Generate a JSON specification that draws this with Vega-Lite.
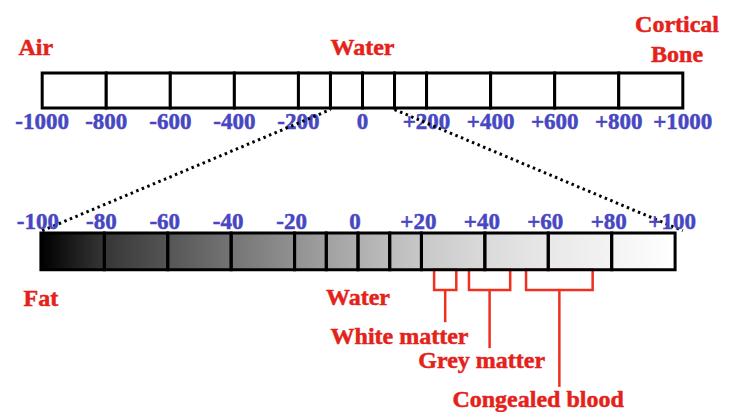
{
  "$schema": "https://vega.github.io/schema/vega-lite/v6.json",
  "width": 729,
  "height": 412,
  "padding": 0,
  "autosize": {"type": "none"},
  "background": "white",
  "config": {"view": {"stroke": null}},
  "datasets": {
    "topCells": [
      {"lo": -1000, "hi": -800}, {"lo": -800, "hi": -600}, {"lo": -600, "hi": -400},
      {"lo": -400, "hi": -200}, {"lo": -200, "hi": -100}, {"lo": -100, "hi": 0},
      {"lo": 0, "hi": 100}, {"lo": 100, "hi": 200}, {"lo": 200, "hi": 400},
      {"lo": 400, "hi": 600}, {"lo": 600, "hi": 800}, {"lo": 800, "hi": 1000}
    ],
    "topTicks": [
      {"hu": -1000, "label": "-1000"}, {"hu": -800, "label": "-800"}, {"hu": -600, "label": "-600"},
      {"hu": -400, "label": "-400"}, {"hu": -200, "label": "-200"}, {"hu": 0, "label": "0"},
      {"hu": 200, "label": "+200"}, {"hu": 400, "label": "+400"}, {"hu": 600, "label": "+600"},
      {"hu": 800, "label": "+800"}, {"hu": 1000, "label": "+1000"}
    ],
    "topNames": [
      {"name": "Air", "hu": -1020, "row": 13.3},
      {"name": "Water", "hu": 0, "row": 13.3},
      {"name": "Cortical", "hu": 982, "row": 7.8},
      {"name": "Bone", "hu": 982, "row": 15.0}
    ],
    "zoomLines": [
      {"side": "left", "hu": -100, "row": 26.6}, {"side": "left", "hu": -1000, "row": 56.0},
      {"side": "right", "hu": 100, "row": 26.6}, {"side": "right", "hu": 1000, "row": 56.0}
    ],
    "bottomCells": [
      {"lo": -100, "hi": -80}, {"lo": -80, "hi": -60}, {"lo": -60, "hi": -40},
      {"lo": -40, "hi": -20}, {"lo": -20, "hi": -10}, {"lo": -10, "hi": 0},
      {"lo": 0, "hi": 10}, {"lo": 10, "hi": 20}, {"lo": 20, "hi": 40},
      {"lo": 40, "hi": 60}, {"lo": 60, "hi": 80}, {"lo": 80, "hi": 100}
    ],
    "bottomTicks": [
      {"hu": -100, "label": "-100"}, {"hu": -80, "label": "-80"}, {"hu": -60, "label": "-60"},
      {"hu": -40, "label": "-40"}, {"hu": -20, "label": "-20"}, {"hu": 0, "label": "0"},
      {"hu": 20, "label": "+20"}, {"hu": 40, "label": "+40"}, {"hu": 60, "label": "+60"},
      {"hu": 80, "label": "+80"}, {"hu": 100, "label": "+100"}
    ],
    "tissues": [
      {"tissue": "White matter", "lo": 24, "hi": 31},
      {"tissue": "Grey matter", "lo": 35, "hi": 48},
      {"tissue": "Congealed blood", "lo": 53, "hi": 74}
    ],
    "stems": [
      {"tissue": "White matter", "hu": 27.5, "row": 70.4}, {"tissue": "White matter", "hu": 27.5, "row": 78.2},
      {"tissue": "Grey matter", "hu": 41.5, "row": 70.4}, {"tissue": "Grey matter", "hu": 41.5, "row": 84.5},
      {"tissue": "Congealed blood", "hu": 63.5, "row": 70.4}, {"tissue": "Congealed blood", "hu": 63.5, "row": 93.9}
    ],
    "bottomNames": [
      {"name": "Fat", "hu": -100, "row": 74.2},
      {"name": "Water", "hu": 0, "row": 74.0},
      {"name": "White matter", "hu": 13.1, "row": 83.5},
      {"name": "Grey matter", "hu": 39, "row": 89.3},
      {"name": "Congealed blood", "hu": 56.8, "row": 98.8}
    ],
    "zoomRange": [{"lo": -100, "hi": 100}]
  },
  "layer": [
    {
      "data": {"name": "topCells"},
      "mark": {"type": "rect", "fill": "white", "stroke": "black", "strokeWidth": 3},
      "encoding": {
        "x": {"field": "lo", "type": "quantitative", "scale": {"domain": [-1131.7, 1144.2], "nice": false, "zero": false}, "axis": null},
        "x2": {"field": "hi"},
        "y": {"datum": 17.7, "type": "quantitative", "scale": {"domain": [0, 100], "reverse": true, "nice": false, "zero": false}, "axis": null},
        "y2": {"datum": 26.2}
      }
    },
    {
      "data": {"name": "topTicks"},
      "mark": {"type": "text", "font": "Liberation Serif", "fontWeight": "bold", "fontSize": 23, "fill": "#4747c2", "stroke": "#4747c2", "strokeWidth": 0.5, "align": "center", "baseline": "alphabetic"},
      "encoding": {
        "x": {"field": "hu", "type": "quantitative", "scale": {"domain": [-1131.7, 1144.2], "nice": false, "zero": false}, "axis": null},
        "y": {"datum": 31.3, "type": "quantitative", "scale": {"domain": [0, 100], "reverse": true, "nice": false, "zero": false}, "axis": null},
        "text": {"field": "label", "type": "nominal"}
      }
    },
    {
      "data": {"name": "topNames"},
      "mark": {"type": "text", "font": "Liberation Serif", "fontWeight": "bold", "fontSize": 24, "fill": "#e4221a", "stroke": "#e4221a", "strokeWidth": 0.5, "align": "center", "baseline": "alphabetic"},
      "encoding": {
        "x": {"field": "hu", "type": "quantitative", "scale": {"domain": [-1131.7, 1144.2], "nice": false, "zero": false}, "axis": null},
        "y": {"field": "row", "type": "quantitative", "scale": {"domain": [0, 100], "reverse": true, "nice": false, "zero": false}, "axis": null},
        "text": {"field": "name", "type": "nominal"}
      }
    },
    {
      "data": {"name": "zoomLines"},
      "mark": {"type": "line", "stroke": "black", "strokeWidth": 3, "strokeDash": [2.5, 3.5]},
      "encoding": {
        "x": {"field": "hu", "type": "quantitative", "scale": {"domain": [-1131.7, 1144.2], "nice": false, "zero": false}, "axis": null},
        "y": {"field": "row", "type": "quantitative", "scale": {"domain": [0, 100], "reverse": true, "nice": false, "zero": false}, "axis": null},
        "detail": {"field": "side", "type": "nominal"}
      }
    },
    {
      "data": {"name": "zoomRange"},
      "mark": {
        "type": "rect",
        "color": {
          "gradient": "linear", "x1": 0, "y1": 0, "x2": 1, "y2": 0,
          "stops": [
            {"offset": 0, "color": "#000000"},
            {"offset": 0.1, "color": "#363636"},
            {"offset": 0.2, "color": "#555555"},
            {"offset": 0.3, "color": "#747474"},
            {"offset": 0.4, "color": "#919191"},
            {"offset": 0.45, "color": "#a0a0a0"},
            {"offset": 0.5, "color": "#afafaf"},
            {"offset": 0.55, "color": "#bcbcbc"},
            {"offset": 0.6, "color": "#c8c8c8"},
            {"offset": 0.7, "color": "#dadada"},
            {"offset": 0.8, "color": "#e8e8e8"},
            {"offset": 0.9, "color": "#f3f3f3"},
            {"offset": 1, "color": "#ffffff"}
          ]
        }
      },
      "encoding": {
        "x": {"field": "lo", "type": "quantitative", "scale": {"domain": [-112.9, 117.0], "nice": false, "zero": false}, "axis": null},
        "x2": {"field": "hi"},
        "y": {"datum": 56.55, "type": "quantitative", "scale": {"domain": [0, 100], "reverse": true, "nice": false, "zero": false}, "axis": null},
        "y2": {"datum": 65.5}
      }
    },
    {
      "data": {"name": "tissues"},
      "mark": {"type": "rect", "fillOpacity": 0, "stroke": "#f0301e", "strokeWidth": 2.5},
      "encoding": {
        "x": {"field": "lo", "type": "quantitative", "scale": {"domain": [-112.9, 117.0], "nice": false, "zero": false}, "axis": null},
        "x2": {"field": "hi"},
        "y": {"datum": 65.5, "type": "quantitative", "scale": {"domain": [0, 100], "reverse": true, "nice": false, "zero": false}, "axis": null},
        "y2": {"datum": 70.4}
      }
    },
    {
      "data": {"name": "stems"},
      "mark": {"type": "line", "stroke": "#f0301e", "strokeWidth": 2.5},
      "encoding": {
        "x": {"field": "hu", "type": "quantitative", "scale": {"domain": [-112.9, 117.0], "nice": false, "zero": false}, "axis": null},
        "y": {"field": "row", "type": "quantitative", "scale": {"domain": [0, 100], "reverse": true, "nice": false, "zero": false}, "axis": null},
        "detail": {"field": "tissue", "type": "nominal"}
      }
    },
    {
      "data": {"name": "bottomCells"},
      "mark": {"type": "rect", "fillOpacity": 0, "stroke": "black", "strokeWidth": 3},
      "encoding": {
        "x": {"field": "lo", "type": "quantitative", "scale": {"domain": [-112.9, 117.0], "nice": false, "zero": false}, "axis": null},
        "x2": {"field": "hi"},
        "y": {"datum": 56.55, "type": "quantitative", "scale": {"domain": [0, 100], "reverse": true, "nice": false, "zero": false}, "axis": null},
        "y2": {"datum": 65.5}
      }
    },
    {
      "data": {"name": "bottomTicks"},
      "mark": {"type": "text", "font": "Liberation Serif", "fontWeight": "bold", "fontSize": 23, "fill": "#4747c2", "stroke": "#4747c2", "strokeWidth": 0.5, "align": "center", "baseline": "alphabetic", "dx": -3},
      "encoding": {
        "x": {"field": "hu", "type": "quantitative", "scale": {"domain": [-112.9, 117.0], "nice": false, "zero": false}, "axis": null},
        "y": {"datum": 55.6, "type": "quantitative", "scale": {"domain": [0, 100], "reverse": true, "nice": false, "zero": false}, "axis": null},
        "text": {"field": "label", "type": "nominal"}
      }
    },
    {
      "data": {"name": "bottomNames"},
      "mark": {"type": "text", "font": "Liberation Serif", "fontWeight": "bold", "fontSize": 24, "fill": "#e4221a", "stroke": "#e4221a", "strokeWidth": 0.5, "align": "center", "baseline": "alphabetic"},
      "encoding": {
        "x": {"field": "hu", "type": "quantitative", "scale": {"domain": [-112.9, 117.0], "nice": false, "zero": false}, "axis": null},
        "y": {"field": "row", "type": "quantitative", "scale": {"domain": [0, 100], "reverse": true, "nice": false, "zero": false}, "axis": null},
        "text": {"field": "name", "type": "nominal"}
      }
    }
  ],
  "resolve": {"scale": {"x": "independent"}}
}
